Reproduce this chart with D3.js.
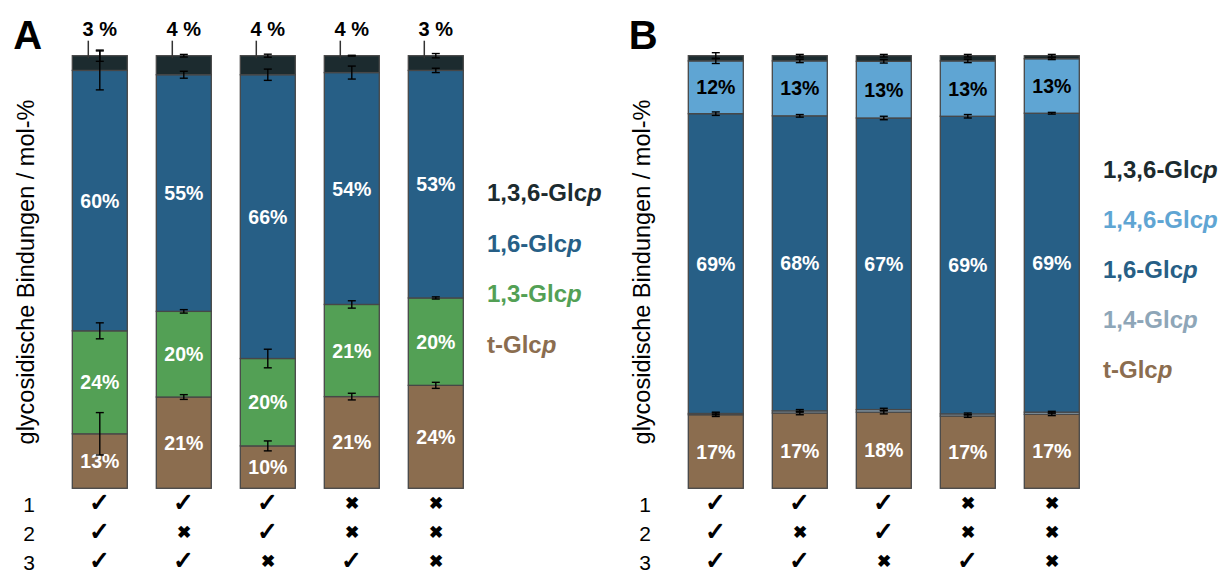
<!DOCTYPE html>
<html>
<head>
<meta charset="utf-8">
<script src="https://cdn.jsdelivr.net/npm/d3@7"></script>
<style>
  html, body { margin: 0; padding: 0; background: #fff; }
  svg { display: block; }
  text { font-family: "Liberation Sans", Arial, sans-serif; }
</style>
</head>
<body>
<svg id="chart" width="1224" height="572"></svg>
<script>
// ---- Panel A: linkage composition (mol-%), stacked bottom -> top ----
const samples = ["S1", "S2", "S3", "S4", "S5"];

const seriesA = ["t-Glcp", "1,3-Glcp", "1,6-Glcp", "1,3,6-Glcp"];
const tGlcA    = [12.6, 21.1,  9.8, 21.2, 23.8];
const glc13A   = [23.8, 19.8, 20.2, 21.3, 20.2];
const glc16A   = [60.2, 54.7, 65.6, 53.6, 52.6];
const glc136A  = [ 3.4,  4.4,  4.4,  3.9,  3.4];
const errTA    = [4.9, 0.55, 1.15, 0.77, 0.7];
const err13A   = [1.85, 0.4, 2.15, 0.85, 0.25];
const err16A   = [4.5, 0.8, 1.3, 1.5, 0.5];
const err136A  = [1.3, 0.3, 0.35, 0.1, 0.5];

// ---- Panel B ----
const seriesB = ["t-Glcp", "1,4-Glcp", "1,6-Glcp", "1,4,6-Glcp", "1,3,6-Glcp"];
const tGlcB    = [17.0, 17.4, 17.6, 16.7, 17.1];
const glc14B   = [ 0.3,  0.5,  0.6,  0.5,  0.5];
const glc16B   = [69.3, 68.2, 67.4, 68.8, 69.1];
const glc146B  = [12.2, 12.7, 13.1, 12.8, 12.6];
const glc136B  = [ 1.2,  1.2,  1.3,  1.2,  0.7];
const errTB    = [0.4, 0.4, 0.4, 0.3, 0.3];
const err14B   = [0.3, 0.3, 0.3, 0.2, 0.2];
const err16B   = [0.4, 0.3, 0.4, 0.4, 0.2];
const err146B  = [0.6, 0.4, 0.4, 0.4, 0.2];
const err136B  = [0.7, 0.3, 0.3, 0.3, 0.3];

// ---- condition table below the bars ----
const conditionRows = ["1", "2", "3"];
const condition1 = [true, true, true, false, false];
const condition2 = [true, false, true, false, false];
const condition3 = [true, true, false, true, false];

const yTitle = "glycosidische Bindungen / mol-%";

const colors = {
  "1,3,6-Glcp": "#1c2b2f",
  "1,4,6-Glcp": "#5fa5d3",
  "1,6-Glcp":   "#275f86",
  "1,4-Glcp":   "#8ea6b8",
  "1,3-Glcp":   "#53a055",
  "t-Glcp":     "#8b6d4f"
};

const svg = d3.select("#chart");

const y = d3.scaleLinear().domain([0, 100]).range([488.3, 55.7]);

function drawPanel(opts) {
  const g = svg.append("g").attr("transform", `translate(${opts.dx},0)`);
  const x = d3.scaleBand().domain(samples)
    .range([72.3, 463.3]).paddingInner(0.3452).paddingOuter(0);

  // build rows for d3.stack
  const rows = samples.map((s, i) => {
    const r = { sample: s };
    opts.series.forEach((k, j) => { r[k] = opts.values[j][i]; });
    return r;
  });
  const stack = d3.stack().keys(opts.series)(rows);

  // panel letter
  g.append("text").attr("x", opts.letterX).attr("y", 49)
    .attr("font-size", 40).attr("font-weight", "bold").attr("fill", "#000")
    .text(opts.letter);

  // y title
  g.append("text")
    .attr("transform", `translate(33.5,272) rotate(-90)`)
    .attr("text-anchor", "middle").attr("font-size", 23.5).attr("fill", "#000")
    .text(yTitle);

  // stacked segments
  stack.forEach(layer => {
    g.append("g").selectAll("rect").data(layer).join("rect")
      .attr("x", d => x(d.data.sample))
      .attr("width", x.bandwidth())
      .attr("y", d => y(d[1]))
      .attr("height", d => y(d[0]) - y(d[1]))
      .attr("fill", colors[layer.key])
      .attr("stroke", "#474747").attr("stroke-width", 1.3);
  });

  // segment percentage labels
  stack.forEach(layer => {
    const lab = opts.labels[layer.key];
    if (!lab) return;
    g.append("g").selectAll("text").data(layer).join("text")
      .attr("x", d => x(d.data.sample) + x.bandwidth() / 2)
      .attr("y", d => (y(d[0]) + y(d[1])) / 2 + 7)
      .attr("text-anchor", "middle").attr("font-size", 19.5)
      .attr("font-weight", "bold").attr("fill", lab)
      .text(d => `${Math.round(d[1] - d[0])}%`);
  });

  // error bars at each segment top
  stack.forEach((layer, li) => {
    const err = opts.errors[li];
    const eg = g.append("g").attr("stroke", "#000").attr("stroke-width", 1.4);
    layer.forEach((d, i) => {
      const cx = x(d.data.sample) + x.bandwidth() / 2;
      const y0 = y(d[1] - err[i]), y1 = y(d[1] + err[i]);
      eg.append("line").attr("x1", cx).attr("x2", cx).attr("y1", y0).attr("y2", y1);
      eg.append("line").attr("x1", cx - 4).attr("x2", cx + 4).attr("y1", y0).attr("y2", y0);
      eg.append("line").attr("x1", cx - 4).attr("x2", cx + 4).attr("y1", y1).attr("y2", y1);
    });
  });

  // top-segment labels with leader lines
  if (opts.topLabel) {
    const top = stack[stack.length - 1];
    g.append("g").selectAll("line").data(top).join("line")
      .attr("x1", d => x(d.data.sample) + 16).attr("x2", d => x(d.data.sample) + 16)
      .attr("y1", 40.7).attr("y2", d => y(d[1]) + 2.6)
      .attr("stroke", "#333").attr("stroke-width", 1.5);
    g.append("g").selectAll("text").data(top).join("text")
      .attr("x", d => x(d.data.sample) + x.bandwidth() / 2)
      .attr("y", 36)
      .attr("text-anchor", "middle").attr("font-size", 20)
      .attr("font-weight", "bold").attr("fill", "#000")
      .text(d => `${Math.round(d[1] - d[0])} %`);
  }

  // legend (top entry first)
  const leg = opts.series.slice().reverse();
  leg.forEach((k, i) => {
    const t = g.append("text")
      .attr("x", opts.legendX).attr("y", opts.legendY + i * opts.legendStep)
      .attr("font-size", 24).attr("font-weight", "bold")
      .attr("fill", colors[k]);
    t.append("tspan").text(k.slice(0, -1));
    t.append("tspan").attr("font-style", "italic").text("p");
  });

  // condition table
  const conds = [condition1, condition2, condition3];
  conditionRows.forEach((r, ri) => {
    const by = 511.5 + ri * 29;
    g.append("text").attr("x", 29).attr("y", by)
      .attr("text-anchor", "middle").attr("font-size", 21).attr("fill", "#000")
      .text(r);
    g.append("g").selectAll("text").data(samples).join("text")
      .attr("x", s => x(s) + x.bandwidth() / 2)
      .attr("y", (s, i) => conds[ri][i] ? by - 1 : by - 2.5)
      .attr("text-anchor", "middle")
      .attr("font-family", '"DejaVu Sans", sans-serif')
      .attr("font-size", (s, i) => conds[ri][i] ? 25 : 17)
      .attr("font-weight", "bold")
      .attr("fill", "#000")
      .text((s, i) => conds[ri][i] ? "\u2713" : "\u2716");
  });
}

drawPanel({
  dx: 0, letter: "A", letterX: 13.3,
  series: seriesA,
  values: [tGlcA, glc13A, glc16A, glc136A],
  errors: [errTA, err13A, err16A, err136A],
  labels: { "t-Glcp": "#fff", "1,3-Glcp": "#fff", "1,6-Glcp": "#fff" },
  topLabel: true,
  legendX: 487, legendY: 201, legendStep: 50.5
});

drawPanel({
  dx: 616, letter: "B", letterX: 12.7,
  series: seriesB,
  values: [tGlcB, glc14B, glc16B, glc146B, glc136B],
  errors: [errTB, err14B, err16B, err146B, err136B],
  labels: { "t-Glcp": "#fff", "1,6-Glcp": "#fff", "1,4,6-Glcp": "#000" },
  topLabel: false,
  legendX: 487, legendY: 178.3, legendStep: 50
});
</script>
</body>
</html>
